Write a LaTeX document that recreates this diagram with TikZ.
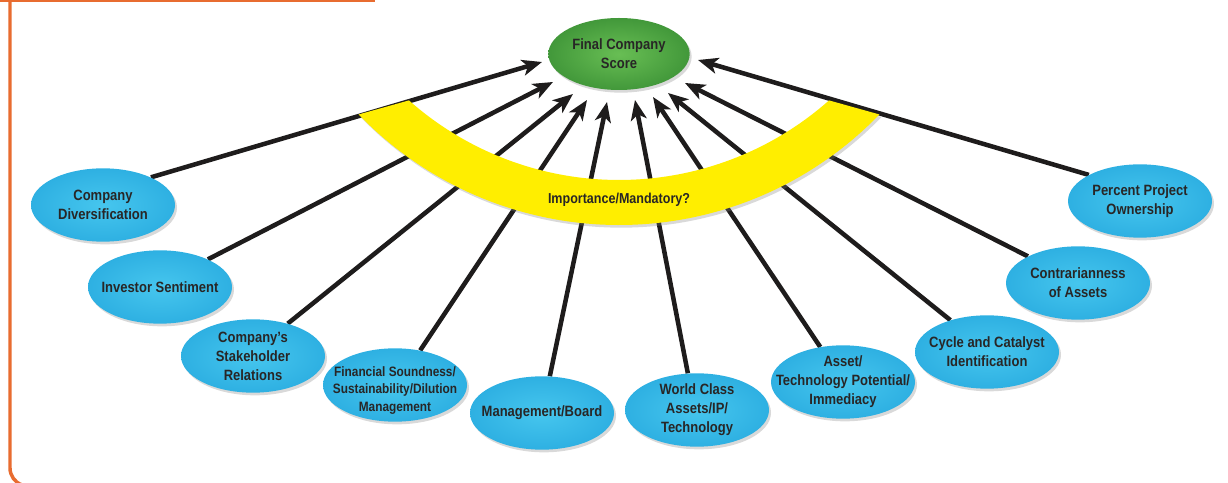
\documentclass[tikz,border=0pt]{standalone}
\usepackage{fontspec}
\setmainfont{Liberation Sans}[FakeStretch=0.87]
\usetikzlibrary{shapes.geometric,arrows.meta,shadows,backgrounds,calc}

\definecolor{frameorange}{RGB}{232,108,48}
\definecolor{textgray}{RGB}{40,38,38}
\definecolor{bubblein}{RGB}{70,198,238}
\definecolor{bubbleout}{RGB}{46,176,226}
\definecolor{scorein}{RGB}{104,190,84}
\definecolor{scoreout}{RGB}{66,152,58}
\definecolor{bandyellow}{RGB}{255,238,0}
\definecolor{linkblack}{RGB}{30,28,28}

\tikzset{
	lbl/.style={align=center, text=textgray, font=\fontsize{11.2}{14.2}\selectfont\bfseries},
	factorbase/.style={ellipse, minimum width=108pt, minimum height=55pt, inner sep=0pt,
		inner color=bubblein, outer color=bubbleout,
		drop shadow={shadow xshift=1.5pt, shadow yshift=-2pt, opacity=0.3}},
	factor/.style={factorbase, label={[lbl]center:#1}},
	link/.style={line width=3.4pt, draw=linkblack, -{Stealth[length=15pt,width=12pt,inset=4pt]}}
}

\begin{document}
\begin{tikzpicture}[x=0.75pt,y=0.75pt]

	\useasboundingbox (0,0) rectangle (1228,482);

	% frame
	\draw[frameorange, line width=2.2pt] (0,481) -- (375,481);
	\draw[frameorange, line width=2.6pt] (10,482) -- (10,14) arc[start angle=180, end angle=250, radius=18];

	\node (S)[factor={Final Company\\Score}, inner color=scorein, outer color=scoreout,
		minimum width=106pt, minimum height=54pt] at (619,428) {};

	\node (C1)[factor={Company\\Diversification}] at (103,277) {};
	\node (C2)[factor={Investor Sentiment}] at (160,195) {};
	\node (C3)[factor={Company's\\Stakeholder\\Relations}] at (253,126) {};
	\node (C4)[factorbase, label={[lbl, yshift=-4pt, font=\fontsize{10.2}{13.2}\selectfont\bfseries]center:Financial Soundness/\\Sustainability/Dilution\\Management}] at (395,97) {};
	\node (C5)[factor={Management/Board}] at (542,69) {};
	\node (C6)[factor={World Class\\Assets/IP/\\Technology}] at (697,72) {};
	\node (C7)[factor={Asset/\\Technology Potential/\\Immediacy}] at (843,100) {};
	\node (C8)[factor={Cycle and Catalyst\\Identification}] at (987,130) {};
	\node (C9)[factor={Contrarianness\\of Assets}] at (1078,199) {};
	\node (C10)[factor={Percent Project\\Ownership}] at (1140,281) {};

	% arrow tips round the score
	\coordinate (t1) at (542,420);
	\coordinate (t2) at (553,400);
	\coordinate (t3) at (573,388);
	\coordinate (t4) at (587,382);
	\coordinate (t5) at (607,380);
	\coordinate (t6) at (635,382);
	\coordinate (t7) at (653,385);
	\coordinate (t8) at (668,389);
	\coordinate (t9) at (685,399);
	\coordinate (t10) at (698,422);
	\coordinate (bc) at (619,619); % centre of the band

	\begin{scope}[on background layer]
	\draw [link] (C1.30) -- (t1);
	\draw [link] (C2.30) -- (t2);
	\draw [link] (C3.43) -- (t3);
	\draw [link] (C4.54) -- (t4);
	\draw [link] (C5.78) -- (t5);
	\draw [link] (C6.104) -- (t6);
	\draw [link] (C7.123) -- (t7);
	\draw [link] (C8.139) -- (t8);
	\draw [link] (C9.152) -- (t9);
	\draw [link] (C10.153) -- (t10);

	\fill[bandyellow, drop shadow={shadow xshift=1.5pt, shadow yshift=-2pt, opacity=0.3}]
		($(bc)+(224:362)$) arc[start angle=224, end angle=316, radius=362]
		-- ($(bc)+(311.5:317)$) arc[start angle=311.5, end angle=228.5, radius=317] -- cycle;
	\node (I)[lbl, font=\fontsize{10.8}{12}\selectfont\bfseries] at (619,282) {Importance/Mandatory?};
	\end{scope}

\end{tikzpicture}
\end{document}
